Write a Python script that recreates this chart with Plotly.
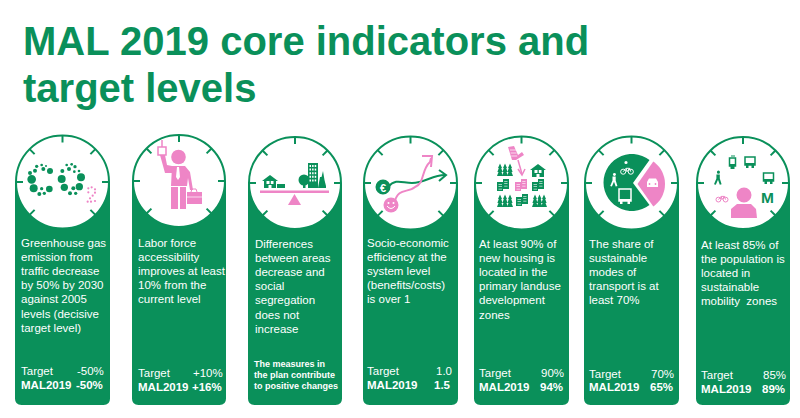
import math
import plotly.graph_objects as go

# ---------- content ----------
title_lines = ["MAL 2019 core indicators and", "target levels"]
descriptions = [
    ["Greenhouse gas", "emission from", "traffic decrease", "by 50% by 2030", "against 2005", "levels (decisive", "target level)"],
    ["Labor force", "accessibility", "improves at least", "10% from the", "current level"],
    ["Differences", "between areas", "decrease and", "social", "segregation", "does not", "increase"],
    ["Socio-economic", "efficiency at the", "system level", "(benefits/costs)", "is over 1"],
    ["At least 90% of", "new housing is", "located in the", "primary landuse", "development", "zones"],
    ["The share of", "sustainable", "modes of", "transport is at", "least 70%"],
    ["At least 85% of", "the population is", "located in", "sustainable", "mobility  zones"],
]
target_values = ["-50%", "+10%", None, "1.0", "90%", "70%", "85%"]
mal_values = ["-50%", "+16%", None, "1.5", "94%", "65%", "89%"]
note_lines = ["The measures in", "the plan contribute", "to positive changes"]

GREEN = "#0A905A"
PINK = "#EE85C6"
WHITE = "#FFFFFF"
FONT = "Liberation Sans"

# left, right, circle-centre y, text x, first text y, target y, mal y, right edge
panels = [
    (15, 110, 182, 19.5, 243, 371, 385, 104.5),
    (132, 226, 181, 136.5, 243, 373, 387, 224),
    (248, 342, 183, 253.5, 244, 0, 0, 0),
    (363, 458, 183, 365.5, 243, 371, 385, 453),
    (474, 569, 183, 477.5, 244, 373, 387, 565),
    (584, 679, 183, 587.5, 244, 374, 387, 675),
    (696, 790, 183, 699.5, 245, 375, 389, 787),
]
BOTTOM = 405

shapes, annots = [], []


def circle(x, y, r, fill=GREEN, line=None, lw=0):
    shapes.append(dict(type="circle", x0=x - r, x1=x + r, y0=y - r, y1=y + r, fillcolor=fill,
                       line=dict(color=line or fill, width=lw), layer="above"))


def poly(pts, fill=GREEN):
    d = "M" + " L".join(f"{a:.1f},{b:.1f}" for a, b in pts) + " Z"
    shapes.append(dict(type="path", path=d, fillcolor=fill, line=dict(width=0), layer="above"))


def rect(x0, y0, x1, y1, fill=GREEN):
    shapes.append(dict(type="rect", x0=x0, x1=x1, y0=y0, y1=y1, fillcolor=fill, line=dict(width=0), layer="above"))


def stroke(pts, color=GREEN, w=2, closed=False):
    d = "M" + " L".join(f"{a:.1f},{b:.1f}" for a, b in pts) + (" Z" if closed else "")
    shapes.append(dict(type="path", path=d, line=dict(color=color, width=w), layer="above"))


def curve(d, color=GREEN, w=2):
    shapes.append(dict(type="path", path=d, line=dict(color=color, width=w), layer="above"))


def arc(cx, cy, r, a0, a1, n=30):
    return [(cx + r * math.cos(math.radians(a0 + (a1 - a0) * t / n)),
             cy + r * math.sin(math.radians(a0 + (a1 - a0) * t / n))) for t in range(n + 1)]


def txt(x, y, s, size=11.5, color=WHITE, bold=False, anchor="left"):
    annots.append(dict(x=x, y=y, xref="x", yref="y", text=f"<b>{s}</b>" if bold else s, showarrow=False,
                       xanchor=anchor, yanchor="middle", align=anchor,
                       font=dict(family=FONT, size=size, color=color), borderpad=0))


# ---------- small pictograms ----------
def tree(x, y, s=1.0, c=GREEN):
    poly([(x, y - 6.5 * s), (x + 2 * s, y - 2 * s), (x + 1.2 * s, y - 2 * s), (x + 2.6 * s, y + 2 * s),
          (x + 1.5 * s, y + 2 * s), (x + 3 * s, y + 6 * s), (x - 3 * s, y + 6 * s), (x - 1.5 * s, y + 2 * s),
          (x - 2.6 * s, y + 2 * s), (x - 1.2 * s, y - 2 * s), (x - 2 * s, y - 2 * s)], c)


def blocks(x, y, c=GREEN):
    rect(x - 6, y - 4, x, y + 5, c)
    rect(x, y - 7, x + 6, y + 3, c)
    for i in range(3):
        rect(x - 4.5, y - 2 + i * 2.4, x - 1, y - 1.4 + i * 2.4, WHITE)
        rect(x + 1.2, y - 5 + i * 2.4, x + 4.5, y - 4.4 + i * 2.4, WHITE)


def house(x, y, c=GREEN):
    poly([(x, y - 7), (x + 8, y - 1), (x + 6, y - 1), (x + 6, y + 6), (x - 6, y + 6), (x - 6, y - 1), (x - 8, y - 1)], c)
    rect(x - 3.5, y - 1, x - 0.5, y + 2, WHITE)
    rect(x + 0.8, y - 1, x + 3.5, y + 2, WHITE)
    rect(x - 1.5, y + 3, x + 1.5, y + 6, WHITE)


def walker(x, y, c=GREEN, s=1.0):
    circle(x + 0.5 * s, y - 6.5 * s, 1.7 * s, c)
    poly([(x - 1.8 * s, y - 4 * s), (x + 2 * s, y - 4 * s), (x + 2 * s, y + 0.5 * s), (x + 4 * s, y + 7 * s),
          (x + 2 * s, y + 7.5 * s), (x, y + 2 * s), (x - 2.5 * s, y + 7.5 * s), (x - 4.5 * s, y + 7 * s),
          (x - 1.8 * s, y + 0.5 * s)], c)


def bike(x, y, c=GREEN, s=1.0, bg=WHITE):
    circle(x - 4.5 * s, y + 2 * s, 3 * s, bg, c, 1)
    circle(x + 4.5 * s, y + 2 * s, 3 * s, bg, c, 1)
    stroke([(x - 4.5 * s, y + 2 * s), (x - 1 * s, y - 2 * s), (x + 3 * s, y - 2 * s), (x + 4.5 * s, y + 2 * s)], c, 1)
    stroke([(x - 1 * s, y - 2 * s), (x, y + 2 * s), (x + 3 * s, y - 2 * s)], c, 1)


def bus(x, y, c=GREEN, w=8, h=9, bg=WHITE):
    shapes.append(dict(type="rect", x0=x - w, x1=x + w, y0=y - h, y1=y + h - 2, fillcolor=bg,
                       line=dict(color=c, width=1.5), layer="above"))
    rect(x - w, y + h - 4, x + w, y + h - 2, c)
    rect(x - w + 1, y + h - 2, x - w + 3.5, y + h + 1, c)
    rect(x + w - 3.5, y + h - 2, x + w - 1, y + h + 1, c)


# ---------- panels ----------
for i, (l, r, cy, tx, ty, ty1, ty2, rx) in enumerate(panels):
    cx, rad = (l + r) / 2, (r - l) / 2
    R = 6.5
    d = (f"M{l},{cy} L{r},{cy} L{r},{BOTTOM - R} Q{r},{BOTTOM} {r - R},{BOTTOM} "
         f"L{l + R},{BOTTOM} Q{l},{BOTTOM} {l},{BOTTOM - R} Z")
    shapes.append(dict(type="path", path=d, fillcolor=GREEN, line=dict(width=0), layer="above"))
    circle(cx, cy, rad - 1, WHITE, GREEN, 2)
    k = 0.7071
    for dx, dy in [(0, -1), (k, -k), (1, 0), (k, k), (-k, k), (-1, 0), (-k, -k)]:
        stroke([(cx + dx * (rad - 1), cy + dy * (rad - 1)), (cx + dx * (rad - 8), cy + dy * (rad - 8))], GREEN, 2)
    for j, line_text in enumerate(descriptions[i]):
        txt(tx, ty + j * 14.1, line_text)
    if target_values[i] is not None:
        txt(tx, ty1, "Target")
        txt(rx, ty1, target_values[i], anchor="right")
        txt(tx, ty2, "MAL2019", bold=True)
        txt(rx - 1, ty2, mal_values[i], bold=True, anchor="right")

for j, line_text in enumerate(note_lines):
    txt(253, 364 + j * 11, line_text, size=9, bold=True)

for j, line_text in enumerate(title_lines):
    txt(21.5, 41 + j * 47, line_text, size=40, color=GREEN, bold=True)

# ---------- icon 1: CO2 ----------
for x, y, r in [(35, 73, 13), (41, 100, 12), (30, 54, 6), (45, 47, 6), (50, 34, 5), (65, 30, 4), (70, 42, 6), (78, 33, 3),
                (90, 48, 9), (58, 117, 6), (73, 115, 5), (65, 101, 5), (88, 102, 10),
                (125, 72, 12), (133, 97, 11), (127, 48, 6), (147, 42, 6), (140, 30, 4), (155, 28, 4), (165, 35, 5),
                (163, 50, 4), (177, 48, 4), (183, 67, 12), (178, 95, 11), (160, 100, 6), (150, 115, 6), (167, 115, 5)]:
    circle(20 + x / 3, 155 + y / 3, r / 3)
for x, y in [(205, 100), (215, 97), (225, 103), (225, 113), (218, 122), (210, 130), (203, 140), (213, 140), (225, 138), (205, 112)]:
    circle(20 + x / 3, 155 + y / 3, 1.1, PINK)

# ---------- icon 2: commuter ----------
stroke([(162, 140), (162, 147)], PINK, 1.5)
stroke([(158, 147), (166, 147), (166, 155), (158, 155)], PINK, 1.5, True)
poly([(160, 155), (165, 155), (167, 165), (177, 167), (177, 173), (165, 173)], PINK)
circle(178.5, 157, 7.3, PINK)
poly([(172, 166), (185, 166), (190, 172), (193, 190), (190, 190), (188, 178), (187, 186), (171, 186)], PINK)
rect(171, 187, 178, 209, PINK)
rect(180, 187, 186, 209, PINK)
poly([(177, 167), (179, 167), (180, 177), (178, 180), (176, 177)], WHITE)
rect(187, 192, 202, 204, PINK)
stroke([(191, 192), (192, 189), (196, 189), (197, 192)], PINK, 1)
stroke([(187, 197), (202, 197)], WHITE, 0.7)

# ---------- icon 3: balance ----------
rect(260, 190.5, 329, 193, PINK)
poly([(294.5, 194), (301, 205), (288, 205)], PINK)
house(270, 182, GREEN)
rect(277, 184, 285, 188, GREEN)
circle(304, 180, 5.5)
rect(303, 183, 305.5, 188)
rect(308, 163, 318, 188)
for a in range(5):
    for b in range(3):
        rect(309.5 + b * 2.6, 165 + a * 3.6, 311 + b * 2.6, 167 + a * 3.6, WHITE)
poly([(318, 188), (320, 177), (321.5, 177), (323, 171), (324.5, 180), (326, 186), (326, 188)], GREEN)

# ---------- icon 4: growth ----------
curve("M388,187 C396,178 402,183 412,183 C425,183 432,175 445,175", GREEN, 2)
stroke([(439, 170), (446, 175), (439, 181)], GREEN, 2)
circle(383, 187, 7.5)
txt(383, 187.5, "€", size=11, bold=True, anchor="center")
curve("M395,201 C398,188 408,193 415,187 C425,183 421,170 430,162 L431,158", PINK, 2)
stroke([(422, 156), (432, 156), (431, 167)], PINK, 2)
circle(391, 205, 7.5, PINK)
circle(388.5, 203, 1, WHITE)
circle(393.5, 203, 1, WHITE)
curve("M387,206 Q391,211 395,206", WHITE, 1)

# ---------- icon 5: land use ----------
poly([(508, 147), (514, 146), (518, 155), (522, 152), (524, 155), (516, 160), (512, 160)], PINK)
for a in range(3):
    stroke([(510 + a * 0.6, 150 + a * 3), (516 + a * 0.6, 150 + a * 3)], WHITE, 0.7)
stroke([(518, 160), (522, 174)], PINK, 1.5)
stroke([(518, 169), (522, 175), (525, 169)], PINK, 1.5)
for x in (500, 505, 510):
    tree(x, 170, 1.0)
    tree(x, 201, 1.0)
house(538, 171, GREEN)
blocks(503, 186)
blocks(538, 186)
blocks(522, 201)
blocks(521, 186, PINK)
for x in (535, 539.5, 544):
    tree(x, 201, 1.0)

# ---------- icon 6: modal split ----------
poly([(633, 183)] + arc(632, 182.5, 28.5, -52, -308), GREEN)
poly([(637.5, 184)] + arc(637.5, 184, 27.5, -55, 55), PINK)
bike(627, 170, WHITE, 0.85, GREEN)
circle(626, 162.5, 1.6, WHITE)
walker(614, 180, WHITE, 0.85)
bus(625, 196, WHITE, 6, 7, GREEN)
poly([(647, 182), (649, 178.5), (656, 178.5), (658, 182), (658, 187), (647, 187)], WHITE)
circle(649.5, 184, 0.9, PINK)
circle(655.5, 184, 0.9, PINK)

# ---------- icon 7: sustainable mobility ----------
circle(744, 195, 7.5, PINK)
poly([(731, 218), (731, 209), (737, 204), (751, 204), (756, 209), (757, 218)], PINK)
bus(732.5, 163, GREEN, 3, 5)
stroke([(731, 156), (735, 156)], GREEN, 1)
bus(750, 162, GREEN, 5, 5)
bus(768.5, 178, GREEN, 5, 5)
walker(718, 178, GREEN, 0.9)
bike(722, 198, PINK, 0.8)
txt(767, 197, "M", size=15.5, color=GREEN, bold=True, anchor="center")

fig = go.Figure()
fig.update_layout(
    width=800, height=418, margin=dict(l=0, r=0, t=0, b=0), autosize=False,
    paper_bgcolor=WHITE, plot_bgcolor=WHITE, showlegend=False,
    xaxis=dict(range=[0, 800], visible=False, fixedrange=True),
    yaxis=dict(range=[418, 0], visible=False, fixedrange=True),
    shapes=shapes, annotations=annots,
)
fig.write_html("out.html", config=dict(displayModeBar=False),
               post_script="document.body.style.margin='0';document.documentElement.style.overflow='hidden';")
